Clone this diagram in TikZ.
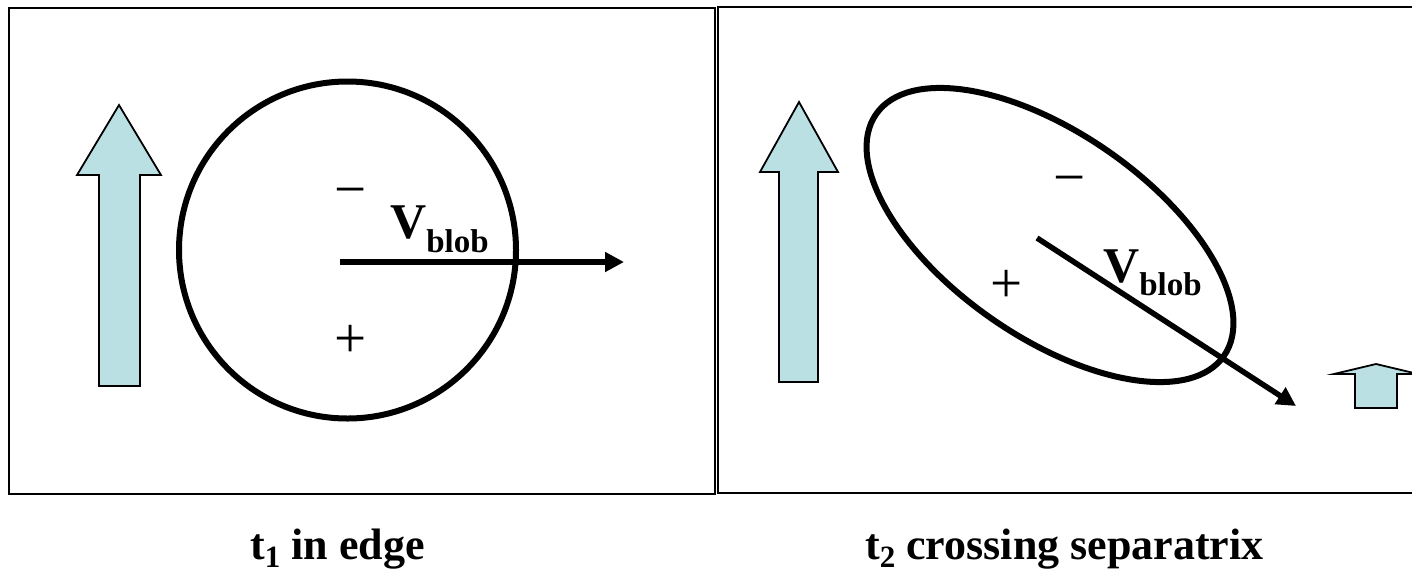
\documentclass[tikz,border=0pt]{standalone}
\usepackage{fontspec}
\setmainfont{Liberation Serif}
\usetikzlibrary{arrows.meta}
\definecolor{arrowfill}{RGB}{187,224,227}
\tikzset{
  frame/.style={draw=black, line width=2.4pt},
  blobline/.style={draw=black, line width=6pt},
  vel/.style={draw=black, line width=5.5pt, -{Triangle[length=19pt 0 0, width=19pt 0 0]}},
  blockarrow/.style={draw=black, fill=arrowfill, line width=1.8pt, line join=miter},
  sign/.style={inner sep=0pt, anchor=base, font=\fontsize{57pt}{57pt}\selectfont},
  vlabel/.style={inner sep=0pt, anchor=base west, font=\fontsize{50pt}{50pt}\selectfont\bfseries},
  caption/.style={inner sep=0pt, anchor=base west, font=\fontsize{44pt}{44pt}\selectfont\bfseries}
}
\begin{document}
\begin{tikzpicture}[x=1pt, y=-1pt]
\useasboundingbox (0,0) rectangle (1412,571);
\begin{scope}
\clip (0,0) rectangle (1412,571);
% frames
\draw[frame] (9,8) rectangle (715,494);
\draw[frame] (1420,7) -- (718,7) -- (718,493) -- (1420,493);

% left panel
\draw[blockarrow] (99,386) -- (99,175) -- (77,175) -- (119,105) -- (161,175) -- (140,175) -- (140,386) -- cycle;
\draw[blobline] (347.5,250) circle [radius=168.5pt];
\coordinate (v1s) at (340,262);
\coordinate (v1e) at (624,262);
\draw[vel] (v1s) -- (v1e);
\node[sign] (m1) at (350.5,208.5) {−};
\node[sign] (p1) at (350.5,357.5) {+};
\node[vlabel] (vb1) at (390,238) {V\raisebox{-14pt}{\fontsize{33pt}{33pt}\selectfont blob}};

% right panel
\draw[blockarrow] (779,382) -- (779,172) -- (760,172) -- (799,102) -- (838,172) -- (818,172) -- (818,382) -- cycle;
\draw[blockarrow] (1355,408) -- (1355,374) -- (1334,374) -- (1376,364) -- (1418,374) -- (1397,374) -- (1397,408) -- cycle;
\draw[blobline, shift={(1050,235)}, rotate=-34.8] (0,0) ellipse [x radius=211.8pt, y radius=102pt];
\coordinate (v2s) at (1037,238);
\coordinate (v2e) at (1296,406);
\draw[vel] (v2s) -- (v2e);
\node[sign] (m2) at (1070,196.5) {−};
\node[sign] (p2) at (1007,302.5) {+};
\node[vlabel] (vb2) at (1103,282) {V\raisebox{-13pt}{\fontsize{33pt}{33pt}\selectfont blob}};

% captions
\node[caption] (cap1) at (250,559) {t\raisebox{-8pt}{\fontsize{31pt}{31pt}\selectfont 1} in edge};
\node[caption] (cap2) at (865,559) {t\raisebox{-8pt}{\fontsize{31pt}{31pt}\selectfont 2} crossing separatrix};
\end{scope}
\end{tikzpicture}
\end{document}
